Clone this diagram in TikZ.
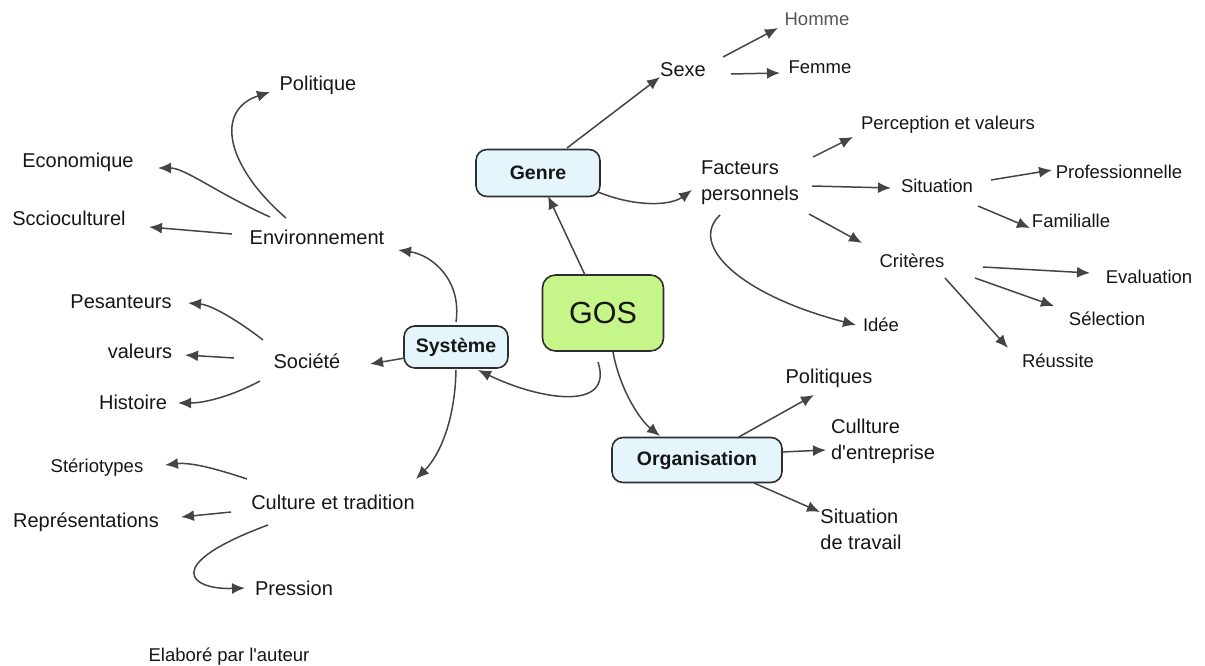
\documentclass[tikz,border=0pt]{standalone}
\usepackage{fontspec}
\setmainfont{Liberation Sans}[Ligatures=TeXOff]
\usetikzlibrary{arrows.meta,calc}
\definecolor{txt}{HTML}{161616}
\definecolor{hom}{HTML}{555555}
\definecolor{lnk}{HTML}{444444}
\definecolor{boxline}{HTML}{2E2E2E}
\definecolor{bluefill}{HTML}{E4F5FC}
\definecolor{greenfill}{HTML}{C6F58A}
\begin{document}
\begin{tikzpicture}[x=1pt,y=-1pt,
  lbl/.style={font=\fontsize{20}{26}\selectfont, text=txt, inner sep=0pt, align=left},
  lbls/.style={font=\fontsize{18.5}{22}\selectfont, text=txt, inner sep=0pt},
  box/.style={draw=boxline, line width=1.6pt, rounded corners=11pt, fill=bluefill,
    font=\fontsize{19.5}{24}\selectfont\bfseries, text=txt, inner sep=0pt},
  gosbox/.style={draw=boxline, line width=1.6pt, rounded corners=13pt, fill=greenfill,
    font=\fontsize{30.5}{34}\selectfont, text=txt, inner sep=0pt,
    minimum width=121pt, minimum height=76pt},
  conn/.style={draw=lnk, line width=1.5pt, -{Latex[length=13pt,width=11pt]}}
]
\useasboundingbox (0,0) rectangle (1205,666);

% boxes
\node[gosbox] (gos) at (603,313) {GOS};
\node[box, minimum width=124pt, minimum height=47pt] (genre) at (538,173) {Genre};
\node[box, minimum width=104pt, minimum height=42pt] (sys) at (456,347) {Système};
\node[box, minimum width=170pt, minimum height=45pt] (org) at (697,460) {Organisation};

% genre side
\node[lbl] (sexe) at (683,70) {Sexe};
\node[lbls, text=hom] (homme) at (817,19) {Homme};
\node[lbls] (femme) at (820,67) {Femme};
\node[lbl] (fac) at (750,183) {Facteurs\\personnels};
\node[lbls] (perc) at (948,125) {Perception et valeurs};
\node[lbls] (sit) at (937,186) {Situation};
\node[lbls] (prof) at (1119,172) {Professionnelle};
\node[lbls] (fam) at (1071,221) {Familialle};
\node[lbls] (crit) at (912,261) {Critères};
\node[lbls] (eval) at (1149,277) {Evaluation};
\node[lbls] (sel) at (1107,319) {Sélection};
\node[lbls] (reu) at (1058,361) {Réussite};
\node[lbls] (idee) at (881,325) {Idée};

% organisation side
\node[lbl] (pols) at (829,378) {Politiques};
\node[lbl] (cul) at (883,441) {Cullture\\d'entreprise};
\node[lbl] (sitt) at (861,529) {Situation\\de travail};

% systeme side
\node[lbl] (pol) at (318,85) {Politique};
\node[lbl] (eco) at (78,162) {Economique};
\node[lbl] (socc) at (69,218) {Sccioculturel};
\node[lbl] (env) at (317,237) {Environnement};
\node[lbl] (pes) at (121,302) {Pesanteurs};
\node[lbl] (val) at (140,351) {valeurs};
\node[lbl] (soc) at (307,361) {Société};
\node[lbl] (hist) at (133,402) {Histoire};
\node[lbls] (ster) at (97,468) {Stériotypes};
\node[lbl] (ct) at (333,502) {Culture et tradition};
\node[lbl] (rep) at (86,522) {Représentations};
\node[lbl] (pres) at (294,588) {Pression};

\node[font=\fontsize{18.5}{22}\selectfont, text=txt, inner sep=0pt] (src) at (229,657) {Elaboré par l'auteur};

% connectors: genre
\draw[conn] ($(genre)+(29,-25)$) -- ($(sexe)+(-23,7)$);
\draw[conn] ($(sexe)+(40,-13)$) -- ($(homme)+(-39,9)$);
\draw[conn] ($(sexe)+(48,4)$) -- ($(femme)+(-40,6)$);
\draw[conn] ($(genre)+(60,19)$) .. controls (635,207) and (670,206) .. ($(fac)+(-58,7)$);
\draw[conn] ($(fac)+(63,-26)$) -- ($(perc)+(-95,12)$);
\draw[conn] ($(fac)+(62,3)$) -- ($(sit)+(-46,2)$);
\draw[conn] ($(fac)+(59,31)$) -- ($(crit)+(-50,-18)$);
\draw[conn] ($(fac)+(-30,32)$) .. controls (688,245) and (740,295) .. ($(idee)+(-25,0)$);
\draw[conn] ($(sit)+(54,-6)$) -- ($(prof)+(-67,-2)$);
\draw[conn] ($(sit)+(41,20)$) -- ($(fam)+(-41,7)$);
\draw[conn] ($(crit)+(71,6)$) -- ($(eval)+(-59,-4)$);
\draw[conn] ($(crit)+(63,17)$) -- ($(sel)+(-53,-13)$);
\draw[conn] ($(crit)+(33,17)$) -- ($(reu)+(-50,-13)$);

% GOS
\draw[conn] ($(gos)+(-18,-38)$) -- ($(genre)+(10,23)$);
\draw[conn] ($(gos)+(-5,49)$) .. controls (614,412) and (540,400) .. ($(sys)+(22,23)$);
\draw[conn] ($(gos)+(10,39)$) .. controls (620,390) and (640,420) .. ($(org)+(-37,-24)$);

% organisation
\draw[conn] ($(org)+(40,-22)$) -- ($(pols)+(-15,17)$);
\draw[conn] ($(org)+(85,-8)$) -- ($(cul)+(-57,9)$);
\draw[conn] ($(org)+(57,23)$) -- ($(sitt)+(-41,-17)$);

% systeme
\draw[conn] ($(sys)+(0,-25)$) .. controls (462,280) and (432,255) .. ($(env)+(81,13)$);
\draw[conn] ($(sys)+(-51,11)$) -- ($(soc)+(63,3)$);
\draw[conn] ($(sys)+(0,23)$) .. controls (455,420) and (440,455) .. ($(ct)+(83,-23)$);

\draw[conn] ($(env)+(-31,-19)$) .. controls (225,165) and (215,110) .. ($(pol)+(-48,7)$);
\draw[conn] ($(env)+(-47,-20)$) .. controls (215,192) and (185,168) .. ($(eco)+(80,6)$);
\draw[conn] ($(env)+(-85,-3)$) -- ($(socc)+(80,9)$);

\draw[conn] ($(soc)+(-44,-21)$) .. controls (240,322) and (212,305) .. ($(pes)+(67,1)$);
\draw[conn] ($(soc)+(-73,-3)$) -- ($(val)+(45,4)$);
\draw[conn] ($(soc)+(-47,20)$) .. controls (232,396) and (205,403) .. ($(hist)+(45,1)$);

\draw[conn] ($(ct)+(-86,-23)$) .. controls (220,470) and (192,462) .. ($(ster)+(68,-3)$);
\draw[conn] ($(ct)+(-102,10)$) -- ($(rep)+(95,-5)$);
\draw[conn] ($(ct)+(-65,23)$) .. controls (160,565) and (190,590) .. ($(pres)+(-49,0)$);
\end{tikzpicture}
\end{document}
